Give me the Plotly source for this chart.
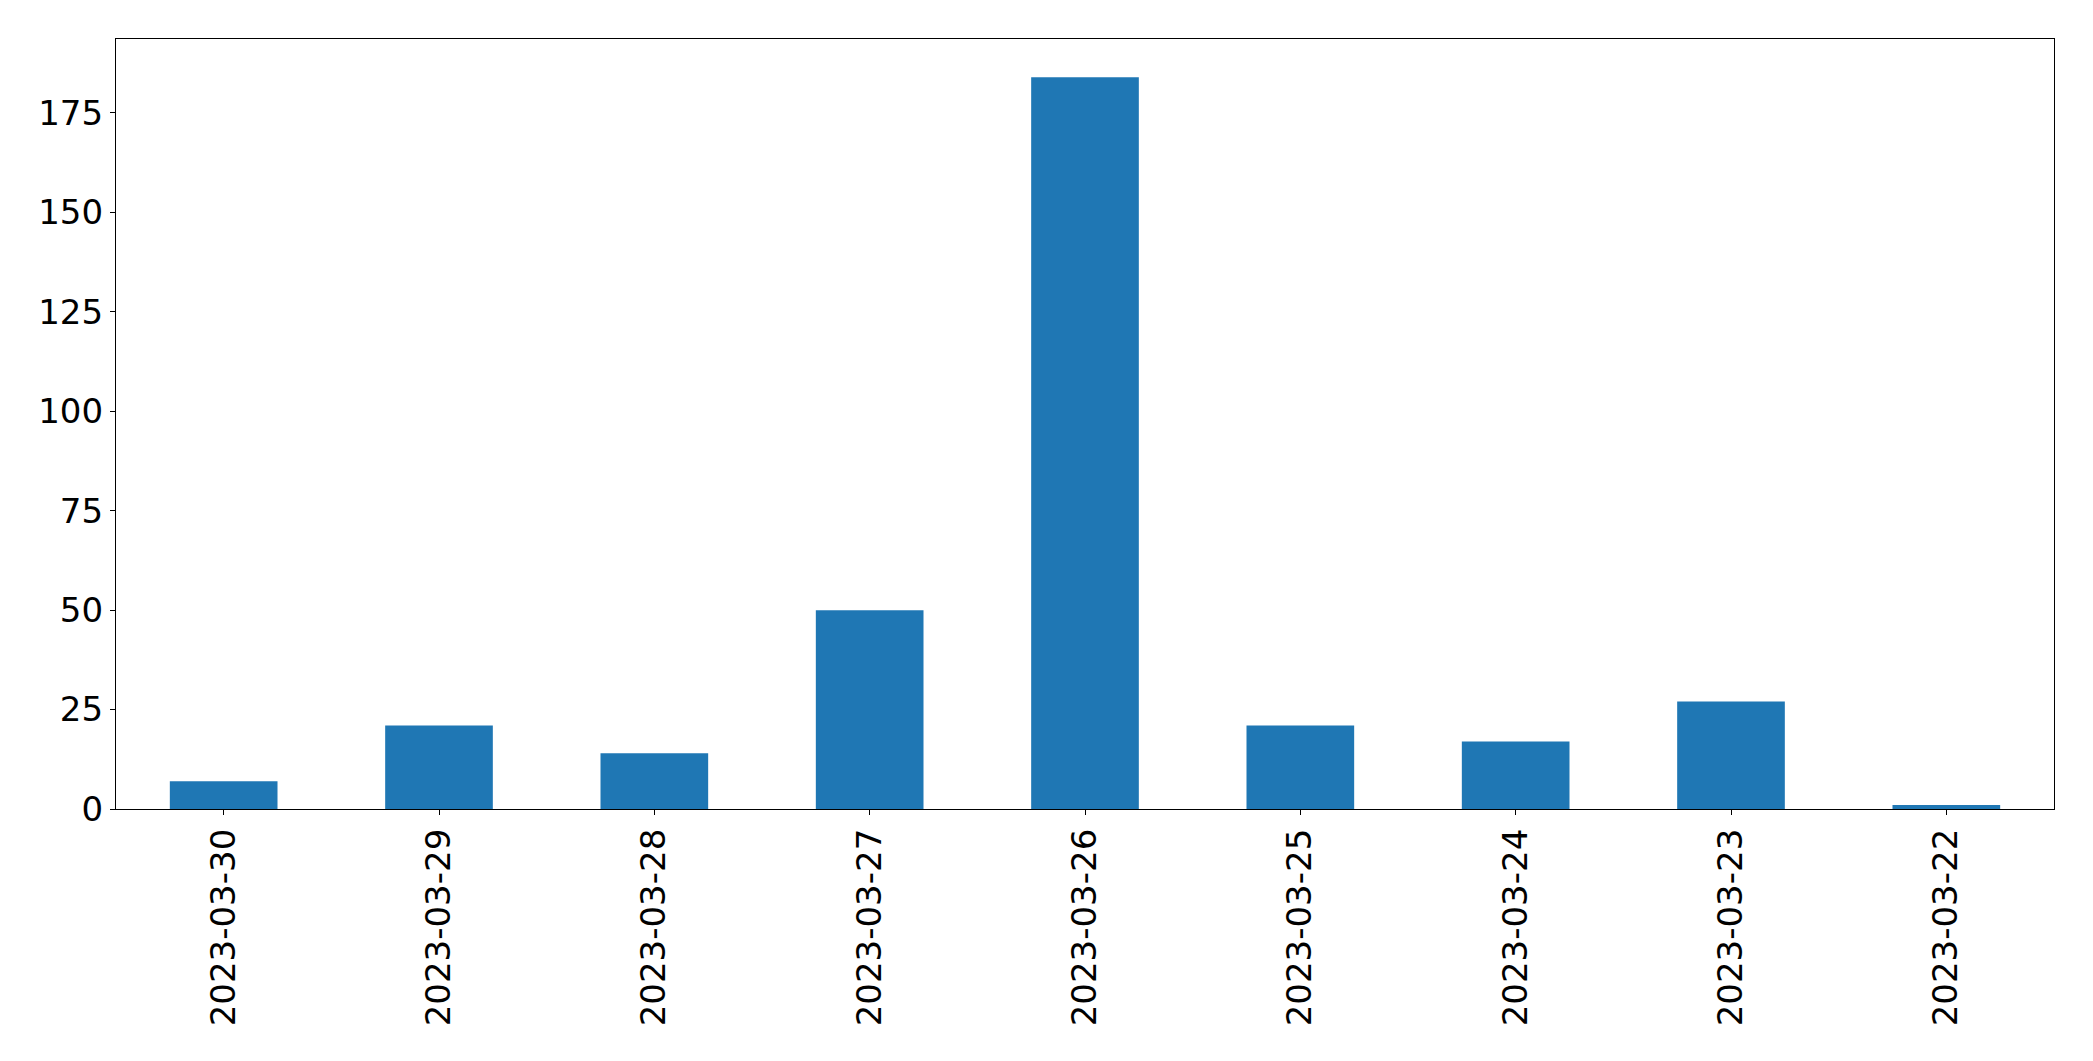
import plotly.graph_objects as go

dates = ["2023-03-30", "2023-03-29", "2023-03-28", "2023-03-27", "2023-03-26",
         "2023-03-25", "2023-03-24", "2023-03-23", "2023-03-22"]
counts = [7, 21, 14, 50, 184, 21, 17, 27, 1]
y_ticks = [0, 25, 50, 75, 100, 125, 150, 175]

fig = go.Figure(go.Bar(x=dates, y=counts, marker=dict(color="#1f77b4", line=dict(width=0)), width=0.5))

font = dict(family="DejaVu Sans", size=34, color="black")
axis_common = dict(showline=True, linecolor="black", linewidth=1.3, mirror=True,
                   showgrid=False, zeroline=False, ticks="outside", ticklen=5,
                   tickwidth=1.3, tickcolor="black", tickfont=font)

# page body has an 8px default margin; compensate so the plot box lands at
# x 116..2054, y 39..809 in the window
fig.update_layout(
    width=2077, height=1045, autosize=False,
    margin=dict(l=108, r=31, t=31, b=244),
    paper_bgcolor="white", plot_bgcolor="white",
    showlegend=False,
    xaxis=dict(type="category", range=[-0.5, 8.5], tickangle=-90, **axis_common),
    yaxis=dict(range=[0, 193.6], tickmode="array", tickvals=y_ticks,
               ticktext=[str(v) for v in y_ticks], **axis_common),
)
fig.write_html("out.html")
